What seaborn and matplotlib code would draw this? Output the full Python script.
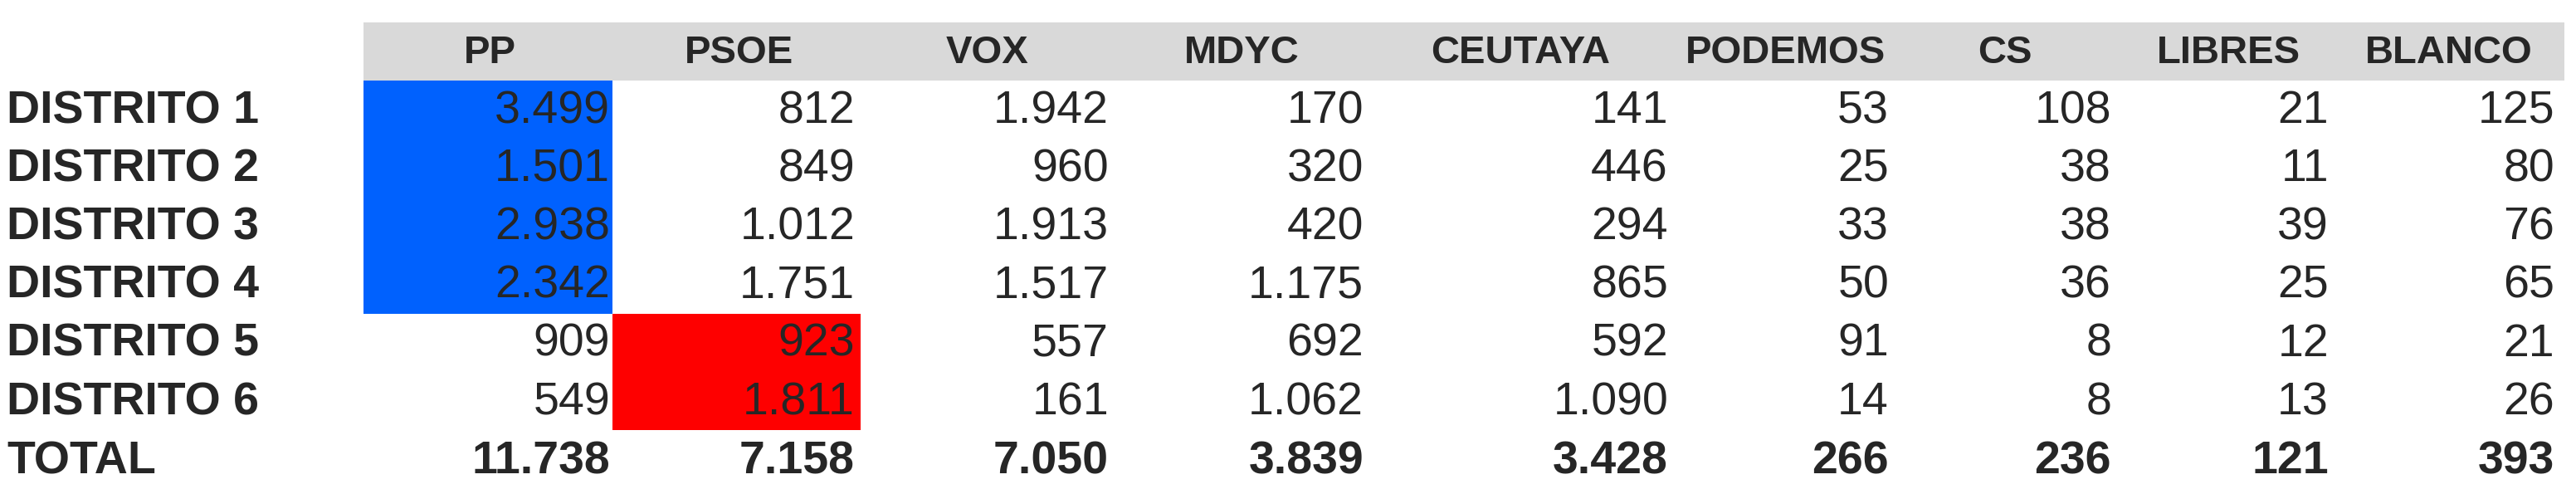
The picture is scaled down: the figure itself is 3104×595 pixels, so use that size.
import numpy as np
import pandas as pd
import matplotlib
matplotlib.use("Agg")
import matplotlib.pyplot as plt
import seaborn as sns
from matplotlib.colors import ListedColormap
from matplotlib import font_manager

sns.set_theme(style="white")

# fuente estrecha si existe
names = {f.name for f in font_manager.fontManager.ttflist}
FONT = 'Liberation Sans Narrow' if 'Liberation Sans Narrow' in names else 'Liberation Sans'
plt.rcParams['font.family'] = [FONT, 'DejaVu Sans']

# ---------------- datos ----------------
partidos = ['PP', 'PSOE', 'VOX', 'MDYC', 'CEUTAYA', 'PODEMOS', 'CS', 'LIBRES', 'BLANCO']
distritos = ['DISTRITO 1', 'DISTRITO 2', 'DISTRITO 3', 'DISTRITO 4', 'DISTRITO 5', 'DISTRITO 6']
pp = [3499, 1501, 2938, 2342, 909, 549]
psoe = [812, 849, 1012, 1751, 923, 1811]
vox = [1942, 960, 1913, 1517, 557, 161]
mdyc = [170, 320, 420, 1175, 692, 1062]
ceutaya = [141, 446, 294, 865, 592, 1090]
podemos = [53, 25, 33, 50, 91, 14]
cs = [108, 38, 38, 36, 8, 8]
libres = [21, 11, 39, 25, 12, 13]
blanco = [125, 80, 76, 65, 21, 26]
ganador = ['PP', 'PP', 'PP', 'PP', 'PSOE', 'PSOE']

df = pd.DataFrame({'PP': pp, 'PSOE': psoe, 'VOX': vox, 'MDYC': mdyc, 'CEUTAYA': ceutaya,
                   'PODEMOS': podemos, 'CS': cs, 'LIBRES': libres, 'BLANCO': blanco},
                  index=distritos)
totales = df.sum()


def fmt(v):
    return f'{v:,}'.replace(',', '.')


# ---------------- figura ----------------
W, H = 3104, 595
fig = plt.figure(figsize=(W / 100, H / 100), dpi=100)
ax = fig.add_axes([0, 0, 1, 1])
ax.set_xlim(0, W)
ax.set_ylim(H, 0)
ax.axis('off')

header_top, header_bot = 27, 97
row_h = 70.2
col_right = [735, 1030, 1336, 1643, 2010, 2276, 2544, 2806, 3078]
col_head = [590, 890, 1190, 1496, 1832, 2151, 2416, 2685, 2951]

ax.axhspan(header_top, header_bot, xmin=438 / W, xmax=3090 / W, color='#d9d9d9', lw=0)
for x, p in zip(col_head, partidos):
    ax.text(x, (header_top + header_bot) / 2 + 2, p, ha='center', va='center',
            fontsize=34, fontweight='bold')

# celdas ganadoras con heatmap de seaborn
ax_hm = fig.add_axes([438 / W, 1 - (header_bot + 6 * row_h) / H, (1037 - 438) / W, 6 * row_h / H])
ganador_mat = pd.DataFrame({'PP': [1.0 if g == 'PP' else np.nan for g in ganador],
                            'PSOE': [2.0 if g == 'PSOE' else np.nan for g in ganador]},
                           index=distritos)
sns.heatmap(ganador_mat, ax=ax_hm, cmap=ListedColormap(['#0061fe', '#fe0000']),
            vmin=0.5, vmax=2.5, cbar=False, xticklabels=False, yticklabels=False)
ax_hm.axis('off')
ax_hm.set_zorder(0)
ax.set_zorder(1)
ax.patch.set_alpha(0)

for i, d in enumerate(distritos):
    y = header_bot + (i + 0.5) * row_h + 2
    ax.text(8, y, d, ha='left', va='center', fontsize=40, fontweight='bold')
    for x, p in zip(col_right, partidos):
        ax.text(x, y, fmt(df.loc[d, p]), ha='right', va='center', fontsize=40)

y = header_bot + 6.5 * row_h + 3
ax.text(8, y, 'TOTAL', ha='left', va='center', fontsize=40, fontweight='bold')
for x, p in zip(col_right, partidos):
    ax.text(x, y, fmt(totales[p]), ha='right', va='center', fontsize=40, fontweight='bold')

fig.savefig('out.png', dpi=100)
